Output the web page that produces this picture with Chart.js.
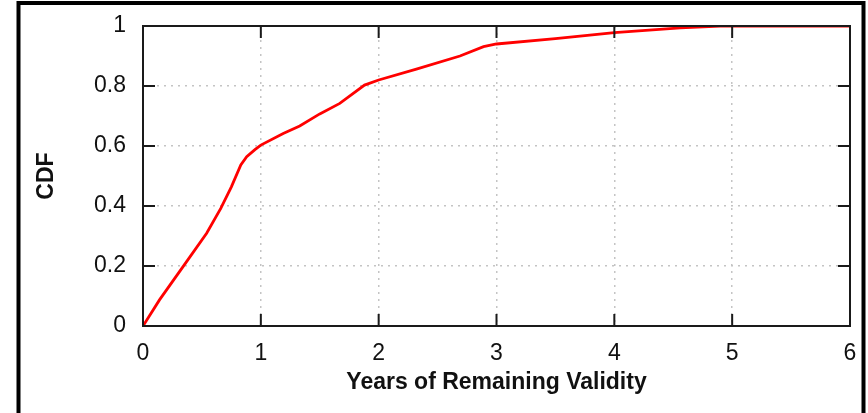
<!DOCTYPE html>
<html>
<head>
<meta charset="utf-8">
<script src="https://cdn.jsdelivr.net/npm/chart.js@4"></script>
<style>
  html, body { margin: 0; padding: 0; background: #fff; }
  #wrap { width: 868px; height: 413px; }
</style>
</head>
<body>
<div id="wrap"><canvas id="c" width="868" height="413"></canvas></div>
<script>
const years = [0, 0.14, 0.34, 0.54, 0.66, 0.75, 0.83, 0.88, 0.95, 1.0, 1.19, 1.33, 1.5, 1.67, 1.88, 2.0, 2.32, 2.69, 2.89, 3.0, 3.5, 4.0, 4.56, 4.9, 6.0];
const cdf   = [0, 0.087, 0.198, 0.309, 0.392, 0.464, 0.537, 0.564, 0.588, 0.603, 0.642, 0.667, 0.707, 0.742, 0.803, 0.82, 0.856, 0.9, 0.931, 0.94, 0.958, 0.978, 0.994, 1.0, 1.0];
const xTicks = [0, 1, 2, 3, 4, 5, 6];
const yTicks = [0, 0.2, 0.4, 0.6, 0.8, 1];
const xTitle = 'Years of Remaining Validity';
const yTitle = 'CDF';

const points = years.map((x, i) => ({ x: x, y: cdf[i] }));
const FONT = 'Liberation Sans, Arial, Helvetica, sans-serif';
const AXIS = '#1a1a1a';

const framePlugin = {
  id: 'frame',
  afterDatasetsDraw(chart) {
    const { ctx, chartArea: a, scales } = chart;
    ctx.save();
    ctx.strokeStyle = AXIS;
    ctx.lineWidth = 2;
    ctx.strokeRect(a.left, a.top, a.right - a.left, a.bottom - a.top);
    const tl = 12;
    ctx.beginPath();
    xTicks.forEach(v => {
      const px = scales.x.getPixelForValue(v);
      ctx.moveTo(px, a.bottom); ctx.lineTo(px, a.bottom - tl);
      ctx.moveTo(px, a.top); ctx.lineTo(px, a.top + tl);
    });
    yTicks.forEach(v => {
      const py = scales.y.getPixelForValue(v);
      ctx.moveTo(a.left, py); ctx.lineTo(a.left + tl, py);
      ctx.moveTo(a.right, py); ctx.lineTo(a.right - tl, py);
    });
    ctx.stroke();
    ctx.restore();
  },
  afterDraw(chart) {
    const { ctx } = chart;
    ctx.save();
    ctx.strokeStyle = '#000';
    ctx.lineWidth = 4;
    ctx.beginPath();
    ctx.moveTo(18.5, 430);
    ctx.lineTo(18.5, 3);
    ctx.lineTo(863.5, 3);
    ctx.lineTo(863.5, 430);
    ctx.stroke();
    ctx.restore();
  }
};

new Chart(document.getElementById('c'), {
  type: 'line',
  data: {
    datasets: [{
      data: points,
      borderColor: 'rgb(255,0,0)',
      borderWidth: 2.8,
      pointRadius: 0,
      tension: 0,
      fill: false
    }]
  },
  options: {
    responsive: false,
    animation: false,
    devicePixelRatio: 1,
    layout: { padding: { top: 26, right: 18, bottom: 0, left: 0 } },
    plugins: { legend: { display: false }, tooltip: { enabled: false } },
    scales: {
      x: {
        type: 'linear',
        min: 0, max: 6,
        afterFit: s => { s.height = 87; s.paddingLeft = 0; s.paddingRight = 0; },
        afterBuildTicks: s => { s.ticks = xTicks.map(v => ({ value: v })); },
        ticks: { color: '#111', padding: 14, font: { family: FONT, size: 23 }, callback: v => String(v) },
        grid: { color: '#c4c4c4', lineWidth: 1.5, drawTicks: false },
        border: { display: false, dash: [2, 5] },
        title: { display: true, text: xTitle, color: '#111', padding: { top: 0, bottom: 17 }, font: { family: FONT, size: 23, weight: 'bold' } }
      },
      y: {
        type: 'linear',
        min: 0, max: 1,
        afterFit: s => { s.width = 143; s.paddingTop = 0; s.paddingBottom = 0; },
        afterBuildTicks: s => { s.ticks = yTicks.map(v => ({ value: v })); },
        ticks: { color: '#111', padding: 17, font: { family: FONT, size: 23 }, callback: v => String(v) },
        grid: { color: '#c4c4c4', lineWidth: 1.5, drawTicks: false },
        border: { display: false, dash: [2, 5] },
        title: { display: true, text: yTitle, color: '#111', padding: { top: 33, bottom: 0 }, font: { family: FONT, size: 23, weight: 'bold' } }
      }
    }
  },
  plugins: [framePlugin]
});
</script>
</body>
</html>
